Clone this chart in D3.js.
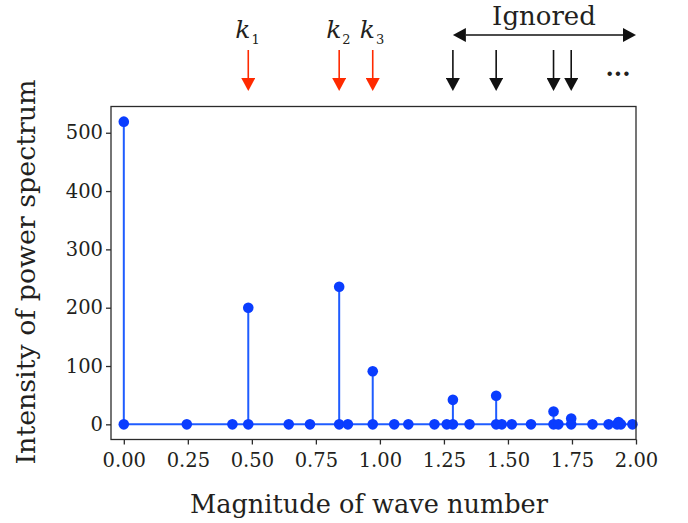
<!DOCTYPE html>
<html>
<head>
    <title>Power spectrum</title>
    <script src="https://cdnjs.cloudflare.com/ajax/libs/d3/7.8.5/d3.min.js"></script>
    <style>
        body { margin: 0; background: white; }
        text { font-family: "DejaVu Serif", serif; fill: #231f20; }
    </style>
</head>
<body>
    <div id="chart"></div>
    <script>
        // Data
        const waveNumber = [0, 0, 0.246, 0.424, 0.486, 0.486, 0.644, 0.727, 0.841, 0.841, 0.875, 0.972, 0.972,
            1.056, 1.111, 1.213, 1.261, 1.285, 1.285, 1.350, 1.454, 1.454, 1.476, 1.515, 1.590,
            1.678, 1.678, 1.697, 1.747, 1.747, 1.830, 1.893, 1.926, 1.932, 1.941, 1.986];
        const intensity = [519, 0, 0, 0, 200, 0, 0, 0, 236, 0, 0, 91, 0,
            0, 0, 0, 0, 42, 0, 0, 49, 0, 0, 0, 0,
            22, 0, 0, 10, 0, 0, 0, 0, 4, 0, 0];
        const xTicks = [0, 0.25, 0.5, 0.75, 1.0, 1.25, 1.5, 1.75, 2.0];
        const yTicks = [0, 100, 200, 300, 400, 500];
        const keptK = [0.486, 0.841, 0.972];
        const keptLabels = ["1", "2", "3"];
        const ignoredK = [1.285, 1.454, 1.678, 1.747];
        const ignoredSpan = [1.285, 2.0];

        const width = 688, height = 523;
        const margin = { top: 106.5, right: 52, bottom: 83.5, left: 111 };

        const svg = d3.select("#chart").append("svg")
            .attr("width", width)
            .attr("height", height);

        const x = d3.scaleLinear().domain([-0.05, 2.0]).range([margin.left, width - margin.right]);
        const y = d3.scaleLinear().domain([-26, 545]).range([height - margin.bottom, margin.top]);

        const data = waveNumber.map((k, i) => ({ k: k, v: intensity[i] }));

        const lineColor = "#1f5cff";
        const dotColor = "#0a3dff";

        // stems
        svg.append("g").selectAll("line")
            .data(data.filter(d => d.v > 0))
            .enter().append("line")
            .attr("x1", d => x(d.k)).attr("x2", d => x(d.k))
            .attr("y1", y(0)).attr("y2", d => y(d.v))
            .attr("stroke", lineColor).attr("stroke-width", 2);

        // baseline
        svg.append("line")
            .attr("x1", x(d3.min(waveNumber))).attr("x2", x(d3.max(waveNumber)))
            .attr("y1", y(0)).attr("y2", y(0))
            .attr("stroke", lineColor).attr("stroke-width", 2);

        // markers
        svg.append("g").selectAll("circle")
            .data(data)
            .enter().append("circle")
            .attr("cx", d => x(d.k)).attr("cy", d => y(d.v))
            .attr("r", 5.3)
            .attr("fill", dotColor);

        // axes
        const xAxis = svg.append("g")
            .attr("transform", `translate(0,${height - margin.bottom})`)
            .call(d3.axisBottom(x).tickValues(xTicks).tickFormat(d3.format(".2f")).tickSize(5).tickPadding(9));
        const yAxis = svg.append("g")
            .attr("transform", `translate(${margin.left},0)`)
            .call(d3.axisLeft(y).tickValues(yTicks).tickSize(5).tickPadding(3));
        [xAxis, yAxis].forEach(g => {
            g.select(".domain").remove();
            g.selectAll(".tick line").attr("stroke", "#2b2b2b").attr("stroke-width", 1.3);
            g.selectAll(".tick text").attr("font-size", 19.5).attr("fill", "#231f20")
                .style("font-family", "DejaVu Serif, serif");
        });

        // frame
        svg.append("rect")
            .attr("x", margin.left).attr("y", margin.top)
            .attr("width", width - margin.left - margin.right)
            .attr("height", height - margin.top - margin.bottom)
            .attr("fill", "none").attr("stroke", "#2b2b2b").attr("stroke-width", 1.3);

        // axis labels
        svg.append("text")
            .attr("x", 369).attr("y", 513)
            .attr("text-anchor", "middle")
            .attr("font-size", 26)
            .attr("textLength", 358).attr("lengthAdjust", "spacingAndGlyphs")
            .text("Magnitude of wave number");
        svg.append("text")
            .attr("transform", "translate(35,272) rotate(-90)")
            .attr("text-anchor", "middle")
            .attr("font-size", 26)
            .attr("textLength", 385).attr("lengthAdjust", "spacingAndGlyphs")
            .text("Intensity of power spectrum");

        // arrow markers
        const defs = svg.append("defs");
        function head(id, color) {
            defs.append("marker")
                .attr("id", id)
                .attr("viewBox", "0 0 14 14")
                .attr("refX", 0).attr("refY", 7)
                .attr("markerWidth", 14).attr("markerHeight", 14)
                .attr("markerUnits", "userSpaceOnUse")
                .attr("orient", "auto-start-reverse")
                .append("path").attr("d", "M0,0L13,7L0,14Z").attr("fill", color);
        }
        head("redHead", "#ff2a00");
        head("blackHead", "#111");

        // kept wave numbers
        svg.append("g").selectAll("line")
            .data(keptK)
            .enter().append("line")
            .attr("x1", d => x(d)).attr("x2", d => x(d))
            .attr("y1", 50).attr("y2", 78)
            .attr("stroke", "#ff2a00").attr("stroke-width", 1.6)
            .attr("marker-end", "url(#redHead)");

        const kLab = svg.append("g").selectAll("text")
            .data(keptK)
            .enter().append("text")
            .attr("x", d => x(d) - 13).attr("y", 38)
            .attr("font-size", 25);
        kLab.append("tspan").attr("font-style", "italic").text("k");
        kLab.append("tspan").attr("font-size", 13).attr("dx", 1).attr("dy", 6).text((d, i) => keptLabels[i]);

        // ignored wave numbers
        svg.append("g").selectAll("line")
            .data(ignoredK)
            .enter().append("line")
            .attr("x1", d => x(d)).attr("x2", d => x(d))
            .attr("y1", 50).attr("y2", 78)
            .attr("stroke", "#111").attr("stroke-width", 1.6)
            .attr("marker-end", "url(#blackHead)");

        svg.append("line")
            .attr("x1", x(ignoredSpan[0]) + 13).attr("x2", x(ignoredSpan[1]) - 13)
            .attr("y1", 35).attr("y2", 35)
            .attr("stroke", "#111").attr("stroke-width", 1.6)
            .attr("marker-start", "url(#blackHead)")
            .attr("marker-end", "url(#blackHead)");

        svg.append("text")
            .attr("x", 544).attr("y", 25)
            .attr("text-anchor", "middle")
            .attr("font-size", 26)
            .text("Ignored");

        svg.append("text")
            .attr("x", 618).attr("y", 76)
            .attr("text-anchor", "middle")
            .attr("font-size", 24)
            .attr("font-weight", "bold")
            .text("...");
    </script>
</body>
</html>
